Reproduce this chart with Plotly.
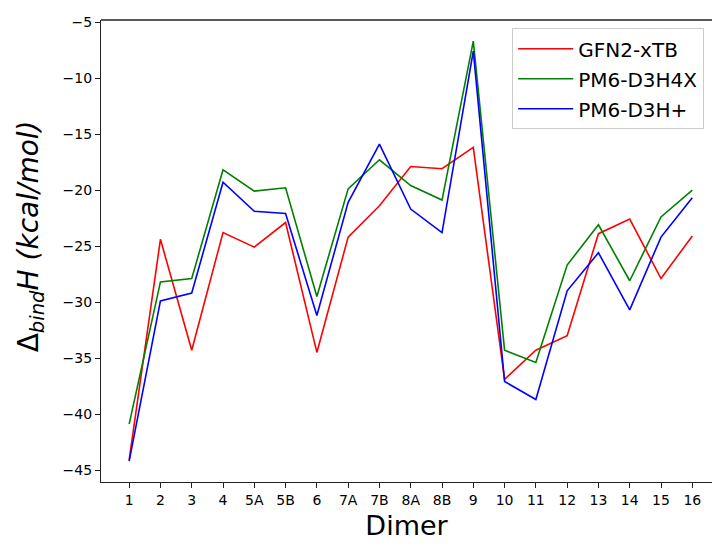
import plotly.graph_objects as go

dimers = ["1", "2", "3", "4", "5A", "5B", "6", "7A", "7B", "8A", "8B", "9",
          "10", "11", "12", "13", "14", "15", "16"]
gfn2_xtb = [-44.1, -24.4, -34.3, -23.8, -25.1, -22.9, -34.5, -24.2, -21.4, -17.9, -18.1, -16.2,
            -36.9, -34.3, -33.0, -23.9, -22.6, -27.9, -24.1]
pm6_d3h4x = [-40.9, -28.2, -27.9, -18.2, -20.1, -19.8, -29.5, -19.9, -17.3, -19.6, -20.9, -6.7,
             -34.3, -35.4, -26.7, -23.1, -28.1, -22.4, -20.0]
pm6_d3hplus = [-44.2, -29.9, -29.2, -19.3, -21.9, -22.1, -31.2, -21.1, -15.9, -21.7, -23.8, -7.6,
               -37.1, -38.7, -29.0, -25.6, -30.7, -24.2, -20.7]
ytick_vals = [-45, -40, -35, -30, -25, -20, -15, -10, -5]
ytick_text = ["\u221245", "\u221240", "\u221235", "\u221230", "\u221225", "\u221220",
              "\u221215", "\u221210", "\u22125"]

series = [("GFN2-xTB", gfn2_xtb, "#ff0000"),
          ("PM6-D3H4X", pm6_d3h4x, "#008000"),
          ("PM6-D3H+", pm6_d3hplus, "#0000ff")]

fig = go.Figure()
for name, vals, col in series:
    fig.add_trace(go.Scatter(x=dimers, y=vals, mode="lines", name=name, legendgroup=name,
                             line=dict(color=col, width=1.6)))

font = "DejaVu Sans"
fig.update_layout(
    width=713, height=546,
    margin=dict(l=101, r=1, t=20, b=64, autoexpand=False),
    paper_bgcolor="white", plot_bgcolor="white",
    font=dict(family=font, color="black"),
    showlegend=True,
    legend=dict(x=0.673, y=0.982, xanchor="left", yanchor="top",
                bgcolor="rgba(255,255,255,0.8)", bordercolor="#cccccc", borderwidth=1,
                font=dict(size=20, family=font), tracegroupgap=1, itemwidth=55),
    xaxis=dict(type="category", categoryorder="array", categoryarray=dimers,
               range=[-0.9, 18.63], showgrid=False, zeroline=False, automargin=False,
               showline=True, linecolor="#222222", linewidth=1.3, mirror=False,
               ticks="outside", ticklen=5, tickwidth=1.3, tickcolor="#222222",
               tickfont=dict(size=14, family=font),
               title=dict(text="Dimer", font=dict(size=27, family=font), standoff=9)),
    yaxis=dict(range=[-46.07, -4.82], showgrid=False, zeroline=False, automargin=False,
               showline=True, linecolor="#222222", linewidth=1.3,
               tickvals=ytick_vals, ticktext=ytick_text,
               ticks="outside", ticklen=5, tickwidth=1.3, tickcolor="#222222",
               tickfont=dict(size=14, family=font)),
    annotations=[dict(text="\u0394<sub><i>bind</i></sub><i>H (kcal/mol)</i>",
                      textangle=-90, xref="paper", yref="paper",
                      x=-0.116, y=0.532, xanchor="center", yanchor="middle",
                      showarrow=False, font=dict(size=28, family=font))],
)
# top spine
fig.add_shape(type="line", xref="paper", yref="paper", x0=0, x1=1, y0=1, y1=1,
              line=dict(color="#222222", width=1.3))
fig.write_html("out.html", config={"displayModeBar": False},
               post_script="document.body.style.margin='0';")
